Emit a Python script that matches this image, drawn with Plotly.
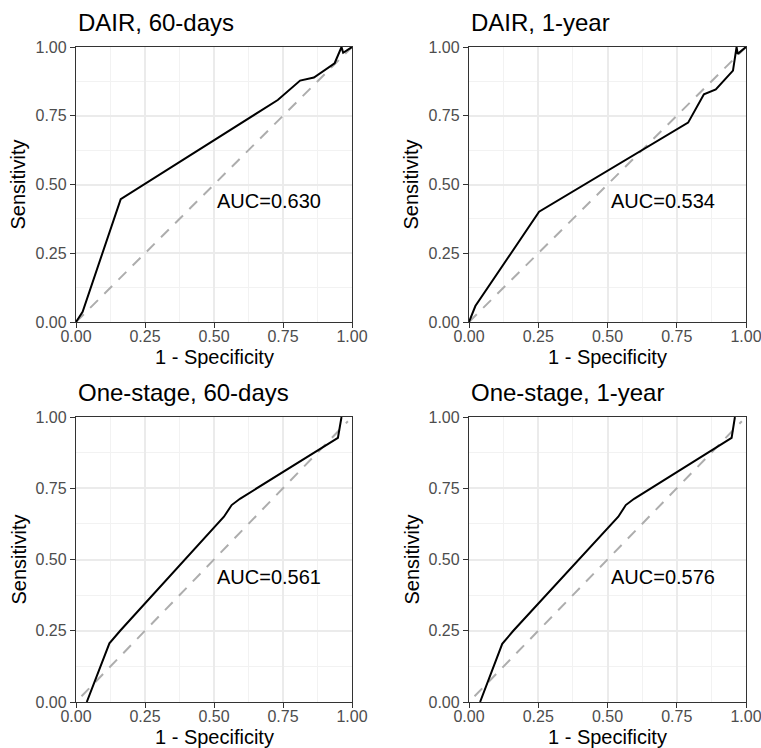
import plotly.graph_objects as go

# ROC curves: false-positive rate (1 - specificity) vs sensitivity
dair60_fpr = [0.0, 0.024, 0.162, 0.731, 0.812, 0.862, 0.937, 0.962, 0.968, 1.0]
dair60_tpr = [0.0, 0.037, 0.447, 0.807, 0.878, 0.889, 0.941, 1.0, 0.979, 1.0]

dair1y_fpr = [0.0, 0.023, 0.253, 0.791, 0.848, 0.891, 0.953, 0.966, 0.970, 1.0]
dair1y_tpr = [0.0, 0.058, 0.401, 0.725, 0.828, 0.846, 0.914, 1.0, 0.975, 1.0]

one60_fpr = [0.039, 0.121, 0.160, 0.536, 0.564, 0.594, 0.949, 0.962]
one60_tpr = [0.0, 0.206, 0.250, 0.650, 0.691, 0.713, 0.927, 1.0]

one1y_fpr = [0.040, 0.120, 0.160, 0.539, 0.566, 0.596, 0.948, 0.960]
one1y_tpr = [0.0, 0.204, 0.250, 0.650, 0.691, 0.713, 0.927, 1.0]

# chance diagonals
diag_top = [0.0, 1.0]
diag_bottom = [0.02, 0.985]

titles = ["DAIR, 60-days", "DAIR, 1-year", "One-stage, 60-days", "One-stage, 1-year"]
auc_labels = ["AUC=0.630", "AUC=0.534", "AUC=0.561", "AUC=0.576"]
auc_pos = (0.70, 0.44)

tick_vals = [0.0, 0.25, 0.5, 0.75, 1.0]
tick_text = ["0.00", "0.25", "0.50", "0.75", "1.00"]
minor_vals = [0.125, 0.375, 0.625, 0.875]

curves = [
    (dair60_fpr, dair60_tpr, diag_top),
    (dair1y_fpr, dair1y_tpr, diag_top),
    (one60_fpr, one60_tpr, diag_bottom),
    (one1y_fpr, one1y_tpr, diag_bottom),
]

W, H = 761, 748
FONT = "Liberation Sans, Arial, Helvetica, sans-serif"

# panel boxes in pixels: (left, right, top, bottom)
boxes = [
    (76, 352, 47, 322),
    (469, 746, 47, 322),
    (76, 352, 417, 702),
    (469, 746, 417, 702),
]

fig = go.Figure()
annotations = []
layout = {}

for i, ((fx, fy, dg), (l, r, t, b)) in enumerate(zip(curves, boxes)):
    n = i + 1
    xa = "x" if n == 1 else f"x{n}"
    ya = "y" if n == 1 else f"y{n}"
    xkey = "xaxis" if n == 1 else f"xaxis{n}"
    ykey = "yaxis" if n == 1 else f"yaxis{n}"

    fig.add_trace(go.Scatter(
        x=dg, y=dg, mode="lines", xaxis=xa, yaxis=ya,
        line=dict(color="#ADADAD", width=2, dash="11px,9px"),
        hoverinfo="skip", showlegend=False,
    ))
    fig.add_trace(go.Scatter(
        x=fx, y=fy, mode="lines", xaxis=xa, yaxis=ya,
        line=dict(color="#000000", width=2),
        showlegend=False,
    ))

    common = dict(
        range=[0, 1], tickvals=tick_vals, ticktext=tick_text,
        tickfont=dict(family=FONT, size=16, color="#4D4D4D"),
        ticks="outside", ticklen=5, tickwidth=1.3, tickcolor="#333333",
        showline=True, mirror=True, linecolor="#333333", linewidth=1.3,
        showgrid=True, gridcolor="#EBEBEB", gridwidth=2,
        zeroline=False, fixedrange=True, automargin=False,
        ticklabeloverflow="allow",
        minor=dict(tickvals=minor_vals, showgrid=True,
                   gridcolor="#F2F2F2", gridwidth=1, ticks=""),
    )
    layout[xkey] = dict(common, domain=[l / W, r / W], anchor=ya,
                        ticklabelstandoff=-5)
    layout[ykey] = dict(common, domain=[1 - b / H, 1 - t / H], anchor=xa)

    # panel title
    annotations.append(dict(
        text=titles[i], xref="paper", yref="paper",
        x=l / W, y=1 - (t - 25) / H, xanchor="left", yanchor="middle",
        showarrow=False, font=dict(family=FONT, size=24, color="#000000"),
    ))
    # x-axis title
    annotations.append(dict(
        text="1 - Specificity", xref="paper", yref="paper",
        x=(l + r) / 2 / W, y=1 - (b + 35) / H, xanchor="center", yanchor="middle",
        showarrow=False, font=dict(family=FONT, size=20, color="#000000"),
    ))
    # y-axis title
    annotations.append(dict(
        text="Sensitivity", xref="paper", yref="paper",
        x=(l - 58) / W, y=1 - (t + b) / 2 / H, xanchor="center", yanchor="middle",
        textangle=-90,
        showarrow=False, font=dict(family=FONT, size=20, color="#000000"),
    ))
    # AUC label
    annotations.append(dict(
        text=auc_labels[i], xref=xa, yref=ya,
        x=auc_pos[0], y=auc_pos[1], xanchor="center", yanchor="middle",
        showarrow=False, font=dict(family=FONT, size=20, color="#000000"),
    ))

fig.update_layout(
    template="none",
    width=W, height=H,
    margin=dict(l=0, r=0, t=0, b=0),
    paper_bgcolor="white", plot_bgcolor="white",
    annotations=annotations,
    **layout,
)

fig.write_html("out.html")
